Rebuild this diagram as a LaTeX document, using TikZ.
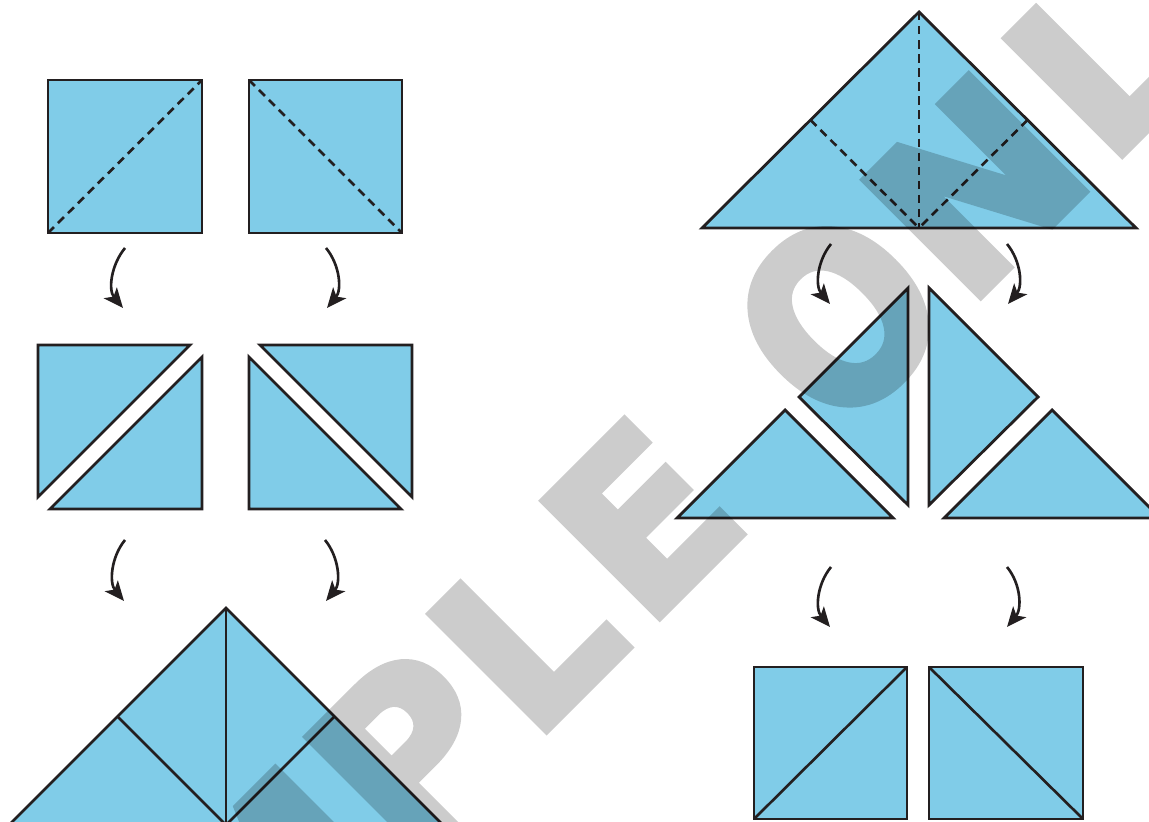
\documentclass[tikz,border=0pt]{standalone}
\usepackage{fontspec}
\newfontfamily\wmfont{DejaVu Sans}[FakeBold=3.5]
\usetikzlibrary{arrows.meta}
\definecolor{paper}{RGB}{128,204,232}
\definecolor{ink}{RGB}{35,31,32}
\tikzset{
  piece/.style={fill=paper, draw=ink, line width=0.8pt},
  fold/.style={draw=ink, line width=0.75pt, dash pattern=on 2.4pt off 1.6pt},
  seam/.style={draw=ink, line width=0.75pt},
  turn/.style={draw=ink, line width=0.75pt, -{Stealth[length=5.6pt, width=4.8pt, inset=1.4pt]}},
  wm/.style={transform shape, anchor=base west, inner sep=0pt, text=black, text opacity=1,
    font=\wmfont\bfseries\fontsize{64pt}{68pt}\selectfont}
}
\begin{document}
\begin{tikzpicture}[x=0.01cm, y=-0.01cm]
\useasboundingbox (0,0) rectangle (1149,822);
\fill[white] (0,0) rectangle (1149,822);

% ---- left column, row 1
\draw[piece] (48,80) rectangle (202,233);
\draw[fold] (48,233) -- (202,80);
\draw[piece] (249,80) rectangle (402,233);
\draw[fold] (249,80) -- (402,233);

\coordinate (a1s) at (125,248); \coordinate (a1e) at (123,308);
\coordinate (a2s) at (326,248); \coordinate (a2e) at (327,308);
\draw[turn] (a1s) .. controls +(-14,17) and +(-15,-18) .. (a1e);
\draw[turn] (a2s) .. controls +(14,17) and +(15,-18) .. (a2e);

% ---- left column, row 2
\draw[piece] (38,345) -- (190,345) -- (38,497) -- cycle;
\draw[piece] (202,357) -- (202,509) -- (50,509) -- cycle;
\draw[piece] (249,357) -- (249,509) -- (401,509) -- cycle;
\draw[piece] (260,345) -- (412,345) -- (412,497) -- cycle;

\coordinate (a3s) at (125,540); \coordinate (a3e) at (124,601);
\coordinate (a4s) at (325,540); \coordinate (a4e) at (326,601);
\draw[turn] (a3s) .. controls +(-14,17) and +(-15,-18) .. (a3e);
\draw[turn] (a4s) .. controls +(14,17) and +(15,-18) .. (a4e);

% ---- left column, row 3
\draw[piece] (226,608) -- (443,825) -- (9,825) -- cycle;
\draw[seam] (226,608) -- (226,825);
\draw[seam] (117.5,716.5) -- (226,825) -- (334.5,716.5);

% ---- right column, row 1
\draw[piece] (919,12) -- (1136,228) -- (702,228) -- cycle;
\draw[fold] (919,12) -- (919,228);
\draw[fold] (810.5,120) -- (919,228);
\draw[fold] (1027.5,120) -- (919,228);

\coordinate (b1s) at (831,244); \coordinate (b1e) at (830,304);
\coordinate (b2s) at (1007,244); \coordinate (b2e) at (1008,304);
\draw[turn] (b1s) .. controls +(-14,17) and +(-15,-18) .. (b1e);
\draw[turn] (b2s) .. controls +(14,17) and +(15,-18) .. (b2e);

% ---- right column, row 2
\draw[piece] (677,518) -- (785,410) -- (893,518) -- cycle;
\draw[piece] (908,288) -- (908,505) -- (799,397) -- cycle;
\draw[piece] (929,288) -- (1038,397) -- (929,505) -- cycle;
\draw[piece] (944,518) -- (1052,410) -- (1160,518) -- cycle;

\coordinate (b3s) at (831,567); \coordinate (b3e) at (830,627);
\coordinate (b4s) at (1007,567); \coordinate (b4e) at (1007,627);
\draw[turn] (b3s) .. controls +(-14,17) and +(-15,-18) .. (b3e);
\draw[turn] (b4s) .. controls +(14,17) and +(15,-18) .. (b4e);

% ---- right column, row 3
\draw[piece] (754,667) rectangle (907,819);
\draw[seam] (754,819) -- (907,667);
\draw[piece] (929,667) rectangle (1083,819);
\draw[seam] (929,667) -- (1083,819);

% ---- watermark
\begin{scope}[opacity=0.2]
\begin{scope}[transparency group]
\path (-60,-60) rectangle (1210,880);
\begin{scope}[shift={(638.3,638.3)}, rotate=45, opacity=1]
  \node[wm] (wS) at (-905,0) {S};
  \node[wm] (wA) at (-738,0) {A};
  \node[wm] (wM) at (-553,0) {M};
  \node[wm] (wP) at (-325,0) {P};
  \node[wm] (wL) at (-151,0) {L};
  \node[wm] (wE) at (9,0) {E};
  \begin{scope}[shift={(280,0)}, xscale=0.92, yscale=1.05]
    \node[wm] (wO) at (0,0) {O};
  \end{scope}
  \node[wm] (wN) at (463,0) {N};
  \node[wm] (wL2) at (663,0) {L};
  \node[wm] (wY) at (835,0) {Y};
\end{scope}
\end{scope}
\end{scope}
\end{tikzpicture}
\end{document}
